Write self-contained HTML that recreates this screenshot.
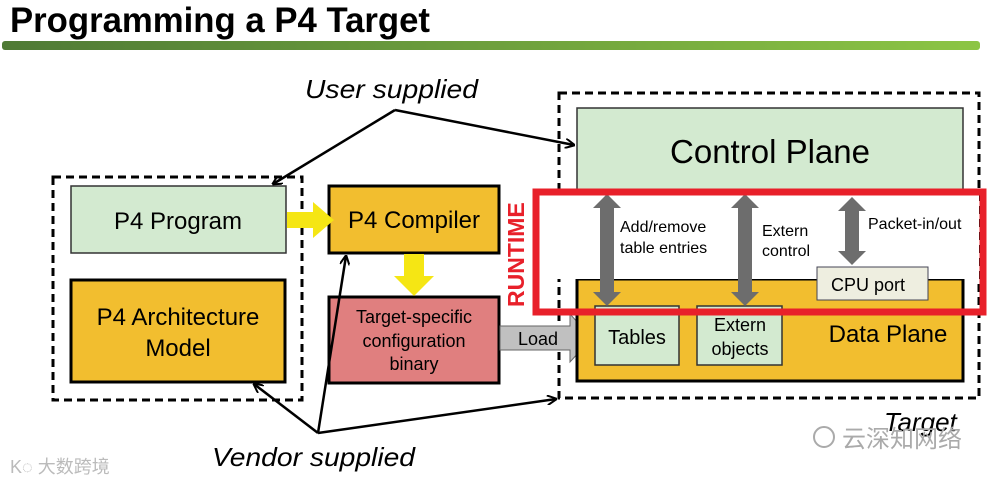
<!DOCTYPE html>
<html><head><meta charset="utf-8"><style>
html,body{margin:0;padding:0;background:#fff;}
svg{display:block;font-family:"Liberation Sans","Noto Sans CJK SC",sans-serif;}
</style></head><body>
<svg width="995" height="483" viewBox="0 0 995 483" xmlns="http://www.w3.org/2000/svg">
<defs>
<linearGradient id="g" x1="0" x2="1"><stop offset="0" stop-color="#4f7a35"/><stop offset="1" stop-color="#8cc544"/></linearGradient>
<marker id="ah" markerWidth="10" markerHeight="10" refX="9" refY="5" orient="auto" markerUnits="userSpaceOnUse"><path d="M0,0 L10,5 L0,10" fill="none" stroke="#000" stroke-width="2"/></marker>
</defs>
<text x="10" y="32" font-size="35" font-weight="bold" textLength="420" lengthAdjust="spacingAndGlyphs" fill="#000">Programming a P4 Target</text>
<rect x="2" y="41" width="978" height="9" rx="3" fill="url(#g)"/>

<rect x="53" y="177" width="249" height="223" fill="none" stroke="#000" stroke-width="3" stroke-dasharray="8,5"/>
<rect x="559" y="93" width="420" height="305" fill="none" stroke="#000" stroke-width="3" stroke-dasharray="8,5"/>

<rect x="71" y="186" width="215" height="67" fill="#d3ead0" stroke="#333" stroke-width="1.5"/>
<text x="178" y="229" font-size="24" text-anchor="middle">P4 Program</text>
<rect x="71" y="280" width="214" height="102" fill="#f2be2f" stroke="#000" stroke-width="3"/>
<text x="178" y="325" font-size="24" text-anchor="middle">P4 Architecture</text>
<text x="178" y="356" font-size="24" text-anchor="middle">Model</text>

<rect x="329" y="186" width="170" height="67" fill="#f2be2f" stroke="#000" stroke-width="3"/>
<text x="414" y="228" font-size="24" text-anchor="middle">P4 Compiler</text>
<rect x="329" y="297" width="170" height="86" fill="#e07f7f" stroke="#000" stroke-width="3"/>
<text x="414" y="323" font-size="18" text-anchor="middle">Target-specific</text>
<text x="414" y="347" font-size="18" text-anchor="middle">configuration</text>
<text x="414" y="370" font-size="18" text-anchor="middle">binary</text>

<path d="M287,212 L313,212 L313,202 L334,220 L313,238 L313,228 L287,228 Z" fill="#f5e614"/>
<path d="M404,254 L424,254 L424,276 L434,276 L414,296 L394,276 L404,276 Z" fill="#f5e614"/>

<path d="M500,326 L570,326 L570,314 L592,338 L570,362 L570,350 L500,350 Z" fill="#c0c0c0" stroke="#666" stroke-width="1"/>
<text x="518" y="345" font-size="18">Load</text>

<rect x="577" y="108" width="386" height="90" fill="#d3ead0" stroke="#333" stroke-width="1.5"/>
<text x="770" y="163" font-size="33" text-anchor="middle">Control Plane</text>
<rect x="577" y="279" width="386" height="102" fill="#f2be2f" stroke="#000" stroke-width="3"/>
<text x="888" y="342" font-size="24" text-anchor="middle">Data Plane</text>
<rect x="595" y="306" width="84" height="59" fill="#d3ead0" stroke="#333" stroke-width="1.5"/>
<text x="637" y="344" font-size="20" text-anchor="middle">Tables</text>
<rect x="697" y="306" width="85" height="59" fill="#d3ead0" stroke="#333" stroke-width="1.5"/>
<text x="740" y="331" font-size="18" text-anchor="middle">Extern</text>
<text x="740" y="355" font-size="18" text-anchor="middle">objects</text>

<rect x="537" y="193" width="442" height="86" fill="#fff"/>
<rect x="817" y="267" width="111" height="33" fill="#eeeee0" stroke="#445" stroke-width="1"/>
<text x="868" y="291" font-size="18" text-anchor="middle">CPU port</text>

<path d="M600,208 L600,292 L593,292 L607,306 L621,292 L614,292 L614,208 L621,208 L607,194 L593,208 Z" fill="#6d6d6d"/>
<path d="M738,208 L738,292 L731,292 L745,306 L759,292 L752,292 L752,208 L759,208 L745,194 L731,208 Z" fill="#6d6d6d"/>
<path d="M845,211 L845,251 L838,251 L852,265 L866,251 L859,251 L859,211 L866,211 L852,197 L838,211 Z" fill="#6d6d6d"/>
<text x="620" y="232" font-size="16">Add/remove</text>
<text x="620" y="253" font-size="16">table entries</text>
<text x="762" y="236" font-size="16">Extern</text>
<text x="762" y="256" font-size="16">control</text>
<text x="868" y="229" font-size="16">Packet-in/out</text>

<rect x="536" y="192" width="447" height="120" fill="none" stroke="#e8202a" stroke-width="7"/>
<text transform="translate(524,307) rotate(-90)" font-size="23" font-weight="bold" fill="#e8202a">RUNTIME</text>

<text x="305" y="98" font-size="26" font-style="italic" textLength="173" lengthAdjust="spacingAndGlyphs">User supplied</text>
<line x1="395" y1="110" x2="273" y2="184" stroke="#000" stroke-width="2.5" marker-end="url(#ah)"/>
<line x1="395" y1="110" x2="574" y2="145" stroke="#000" stroke-width="2.5" marker-end="url(#ah)"/>
<line x1="318" y1="433" x2="254" y2="384" stroke="#000" stroke-width="2.5" marker-end="url(#ah)"/>
<line x1="318" y1="433" x2="346" y2="256" stroke="#000" stroke-width="2.5" marker-end="url(#ah)"/>
<line x1="318" y1="433" x2="556" y2="399" stroke="#000" stroke-width="2.5" marker-end="url(#ah)"/>
<text x="212" y="466" font-size="26" font-style="italic" textLength="203" lengthAdjust="spacingAndGlyphs">Vendor supplied</text>
<text x="884" y="431" font-size="26" font-style="italic">Target</text>

<text x="842" y="447" font-size="24" fill="#aaa">云深知网络</text>
<circle cx="824" cy="437" r="10" fill="none" stroke="#aaa" stroke-width="2"/>
<text x="10" y="473" font-size="18" fill="#bbb">K◌ 大数跨境</text>
</svg>
</body></html>
